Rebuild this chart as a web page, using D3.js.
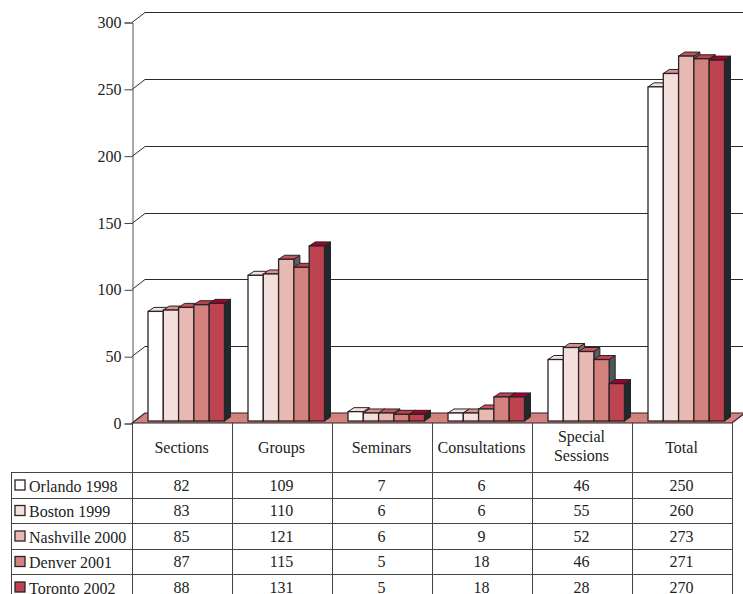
<!DOCTYPE html>
<html>
<head>
  <meta charset="utf-8">
  <script src="https://d3js.org/d3.v7.min.js"></script>
  <style>
    body { margin: 0; background: #fff; }
    svg { display: block; }
    text { font-family: "Liberation Serif", serif; font-size: 16px; fill: #222; }
    .tick line { stroke: #444; }
  </style>
</head>
<body>
<div id="chart"></div>
<script>
    var categories = ["Sections", "Groups", "Seminars", "Consultations", "Special Sessions", "Total"];
    var seriesNames = ["Orlando 1998", "Boston 1999", "Nashville 2000", "Denver 2001", "Toronto 2002"];
    var orlando = [82, 109, 7, 6, 46, 250];
    var boston = [83, 110, 6, 6, 55, 260];
    var nashville = [85, 121, 6, 9, 52, 273];
    var denver = [87, 115, 5, 18, 46, 271];
    var toronto = [88, 131, 5, 18, 28, 270];
    var seriesValues = [orlando, boston, nashville, denver, toronto];
    var yTicks = [0, 50, 100, 150, 200, 250, 300];

    var frontColors = ["#ffffff", "#f3e0dd", "#e8b9b3", "#d4827e", "#bc434f"];
    var topColors = ["#f3e0dd", "#d9908a", "#c4575b", "#b9444f", "#a3002f"];
    var sideColors = ["#8a8a8a", "#6b7474", "#55625f", "#4a5858", "#1f2a2c"];

    var width = 743, height = 594;
    var left = 132, right = 732, base = 423, topY = 22;
    var depthX = 13, depthY = 10;    // wall depth
    var barDX = 6, barDY = 4;        // bar depth
    var rowY = [472, 497.5, 523, 548.5, 574, 600];

    var svg = d3.select("#chart").append("svg")
        .attr("width", width)
        .attr("height", height);

    var x = d3.scaleBand().domain(categories).range([left, right]);
    var y = d3.scaleLinear().domain([0, 300]).range([base, topY]);
    var inner = d3.scaleBand().domain(d3.range(seriesNames.length))
        .range([16, 92.5]);

    // floor
    svg.append("path")
        .attr("d", "M" + left + "," + base + "L" + (left + depthX) + "," + (base - depthY)
            + "L" + (right + depthX) + "," + (base - depthY) + "L" + right + "," + base + "Z")
        .attr("fill", "#d4827e")
        .attr("stroke", "#2a2224")
        .attr("stroke-width", 1.2);

    // grid lines, with the slanted part going back to the wall
    svg.append("g").selectAll("path")
        .data(yTicks.filter(function (d) { return d > 0; }))
        .enter().append("path")
        .attr("fill", "none")
        .attr("stroke", "#2a2a2a")
        .attr("stroke-width", 1)
        .attr("d", function (d) {
            var py = Math.round(y(d)) + 0.5;
            return "M" + left + "," + py + "L" + (left + depthX) + "," + (py - depthY)
                + "L" + (right + depthX) + "," + (py - depthY);
        });

    // bars, left to right so each one covers the side of the one before
    seriesValues.forEach(function (values, s) {
        var g = svg.append("g");
        values.forEach(function (v, c) {
            var x0 = x(categories[c]) + inner(s);
            var x1 = x0 + inner.bandwidth();
            var y0 = y(0) - 2;
            var y1 = y(v) - 2;
            g.append("path")
                .attr("d", "M" + x1 + "," + y1 + "L" + (x1 + barDX) + "," + (y1 - barDY)
                    + "L" + (x1 + barDX) + "," + (y0 - barDY) + "L" + x1 + "," + y0 + "Z")
                .attr("fill", sideColors[s])
                .attr("stroke", "#2a2224");
            g.append("path")
                .attr("d", "M" + x0 + "," + y1 + "L" + (x0 + barDX) + "," + (y1 - barDY)
                    + "L" + (x1 + barDX) + "," + (y1 - barDY) + "L" + x1 + "," + y1 + "Z")
                .attr("fill", topColors[s])
                .attr("stroke", "#2a2224");
            g.append("rect")
                .attr("x", x0)
                .attr("y", y1)
                .attr("width", inner.bandwidth())
                .attr("height", y0 - y1)
                .attr("fill", frontColors[s])
                .attr("stroke", "#2a2224")
                .attr("stroke-width", 1.3);
        });
    });

    // y axis
    var axis = svg.append("g")
        .attr("transform", "translate(" + (left + 0.5) + ",0.5)")
        .call(d3.axisLeft(y).tickValues(yTicks).tickSize(8).tickPadding(3));
    axis.select(".domain").attr("stroke", "#555");
    axis.selectAll("text").style("font-size", "16px")
        .style("font-family", '"Liberation Serif", serif');

    // data table
    var table = svg.append("g").attr("stroke", "#444").attr("stroke-width", 1);
    x.domain().concat(["end"]).forEach(function (c, i) {
        var px = (c === "end" ? right : x(c)) + 0.5;
        table.append("line").attr("x1", px).attr("x2", px)
            .attr("y1", base).attr("y2", height);
    });
    table.append("line").attr("x1", 11.5).attr("x2", 11.5)
        .attr("y1", rowY[0]).attr("y2", height);
    rowY.forEach(function (ry) {
        table.append("line").attr("x1", 11).attr("x2", right + 1)
            .attr("y1", Math.round(ry) + 0.5).attr("y2", Math.round(ry) + 0.5);
    });

    // header labels
    categories.forEach(function (c) {
        var words = c === "Special Sessions" ? c.split(" ") : [c];
        words.forEach(function (w, i) {
            svg.append("text")
                .attr("x", x(c) + x.bandwidth() / 2 - 0.5)
                .attr("y", words.length > 1 ? 442 + i * 19 : 453)
                .attr("text-anchor", "middle")
                .text(w);
        });
    });

    // legend keys, names and values
    seriesNames.forEach(function (name, s) {
        var ty = rowY[s] + 19.5;
        svg.append("rect")
            .attr("x", 15)
            .attr("y", rowY[s] + 8)
            .attr("width", 10)
            .attr("height", 10)
            .attr("fill", frontColors[s])
            .attr("stroke", "#2a2224")
            .attr("stroke-width", 1.3);
        svg.append("text").attr("x", 29).attr("y", ty).text(name);
        seriesValues[s].forEach(function (v, c) {
            svg.append("text")
                .attr("x", x(categories[c]) + x.bandwidth() / 2 - 0.5)
                .attr("y", ty - 1)
                .attr("text-anchor", "middle")
                .text(v);
        });
    });
</script>
</body>
</html>
